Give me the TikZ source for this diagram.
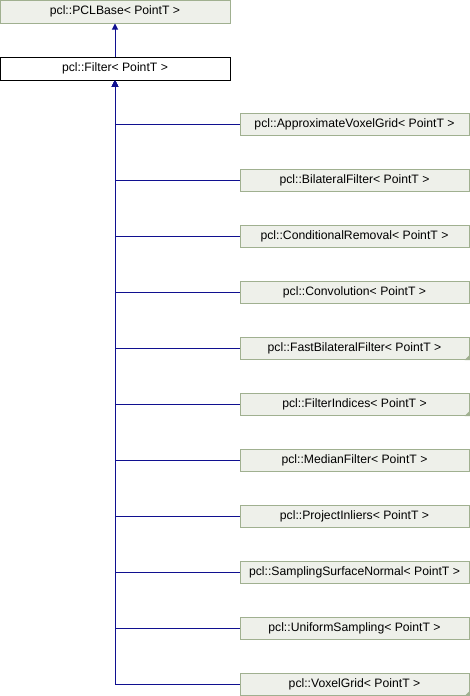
\documentclass[tikz,border=0pt]{standalone}
\usepackage{fontspec}
\setmainfont{Liberation Sans}
\usetikzlibrary{arrows.meta}
\definecolor{boxfill}{RGB}{238,240,234}
\definecolor{boxline}{RGB}{160,176,144}
\definecolor{edgecol}{RGB}{16,16,144}
\tikzset{
  x=1pt, y=-1pt,
  cls/.style={draw=boxline, fill=boxfill, line width=1pt, minimum width=229pt, minimum height=22pt, inner sep=0pt, font=\fontsize{12.2}{14}\selectfont},
  topcls/.style={cls, minimum width=230pt, minimum height=23pt},
  curcls/.style={draw=black, fill=white, line width=1pt, minimum width=230pt, minimum height=23pt, inner sep=0pt, font=\fontsize{12.2}{14}\selectfont},
  inh/.style={draw=edgecol, line width=1pt, -{Triangle[length=6pt,width=6pt]}},
  fold/.style={fill=boxline}
}
\begin{document}
\begin{tikzpicture}
\useasboundingbox (0,0) rectangle (470,696);
\node[topcls] (base) at (115,11.5) {pcl::PCLBase< PointT >};
\node[curcls] (filter) at (115,68.5) {pcl::Filter< PointT >};
\draw[inh] (filter.north) -- (base.south);
\foreach \n/\t [count=\k from 0] in {
  avg/{pcl::ApproximateVoxelGrid< PointT >},
  bf/{pcl::BilateralFilter< PointT >},
  cr/{pcl::ConditionalRemoval< PointT >},
  conv/{pcl::Convolution< PointT >},
  fbf/{pcl::FastBilateralFilter< PointT >},
  fi/{pcl::FilterIndices< PointT >},
  mf/{pcl::MedianFilter< PointT >},
  pi/{pcl::ProjectInliers< PointT >},
  ssn/{pcl::SamplingSurfaceNormal< PointT >},
  us/{pcl::UniformSampling< PointT >},
  vg/{pcl::VoxelGrid< PointT >}} {
  \node[cls] (\n) at (354.5,{124+56*\k}) {\t};
  \draw[inh] (\n.west) -| (filter.south);
}
\foreach \n in {fbf,fi,vg} {
  \fill[fold] ([shift={(0.5,0.5)}]\n.south east) -- ++(-5.5,0) -- ++(5.5,-5.5) -- cycle;
}
\end{tikzpicture}
\end{document}
